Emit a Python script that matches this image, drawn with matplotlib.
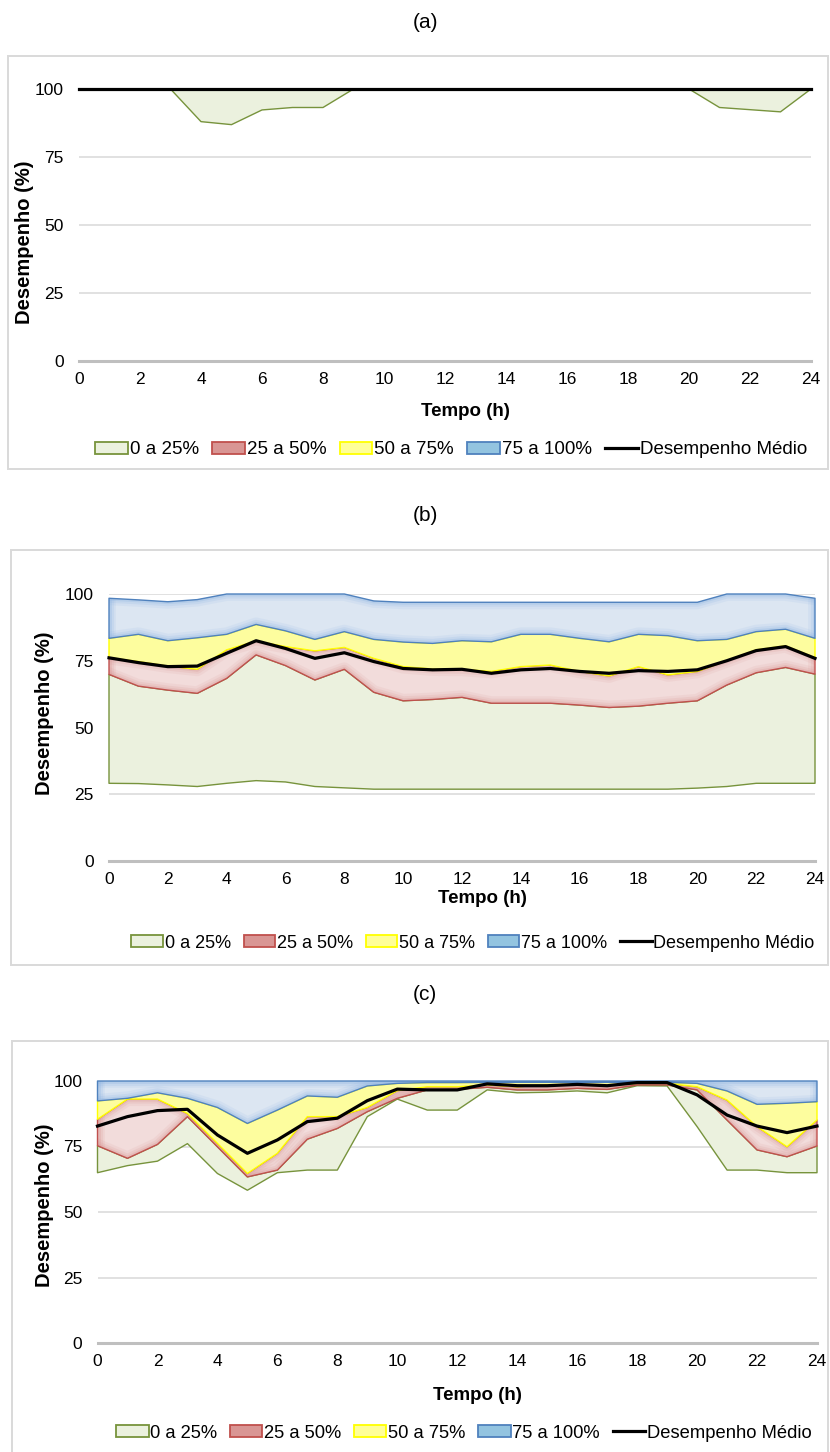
import matplotlib
matplotlib.use('Agg')
import matplotlib.pyplot as plt
from matplotlib.patches import Polygon, Patch, Rectangle
from matplotlib.lines import Line2D

plt.rcParams['font.family'] = ['Liberation Sans', 'DejaVu Sans']

# ---------------- data ----------------
hours = [0, 1, 2, 3, 4, 5, 6, 7, 8, 9, 10, 11, 12, 13, 14, 15, 16, 17, 18, 19, 20, 21, 22, 23, 24]
x_ticks = [0, 2, 4, 6, 8, 10, 12, 14, 16, 18, 20, 22, 24]
y_ticks = [0, 25, 50, 75, 100]
band_labels = ['0 a 25%', '25 a 50%', '50 a 75%', '75 a 100%']
mean_label = 'Desempenho Médio'
panel_titles = ['(a)', '(b)', '(c)']
x_title = 'Tempo (h)'
y_title = 'Desempenho (%)'

# panel (a)
a_min = [100, 100, 100, 100, 88.0, 86.9, 92.3, 93.2, 93.2, 100, 100, 100, 100, 100, 100, 100, 100, 100, 100, 100, 100, 93.2, 92.4, 91.6, 100]
a_q1 = [100, 100, 100, 100, 100, 100, 100, 100, 100, 100, 100, 100, 100, 100, 100, 100, 100, 100, 100, 100, 100, 100, 100, 100, 100]
a_med = [100, 100, 100, 100, 100, 100, 100, 100, 100, 100, 100, 100, 100, 100, 100, 100, 100, 100, 100, 100, 100, 100, 100, 100, 100]
a_q3 = [100, 100, 100, 100, 100, 100, 100, 100, 100, 100, 100, 100, 100, 100, 100, 100, 100, 100, 100, 100, 100, 100, 100, 100, 100]
a_max = [100, 100, 100, 100, 100, 100, 100, 100, 100, 100, 100, 100, 100, 100, 100, 100, 100, 100, 100, 100, 100, 100, 100, 100, 100]
a_mean = [100, 100, 100, 100, 100, 100, 100, 100, 100, 100, 100, 100, 100, 100, 100, 100, 100, 100, 100, 100, 100, 100, 100, 100, 100]

# panel (b)
b_min = [29.1, 29.0, 28.5, 27.9, 29.1, 30.1, 29.6, 27.9, 27.4, 26.9, 26.9, 26.9, 26.9, 26.9, 26.9, 26.9, 26.9, 26.9, 26.9, 26.9, 27.3, 27.9, 29.1, 29.1, 29.1]
b_q1 = [69.9, 65.5, 64.0, 62.8, 68.4, 77.2, 73.2, 67.8, 71.8, 63.2, 60.0, 60.5, 61.3, 59.1, 59.1, 59.1, 58.4, 57.5, 58.0, 59.1, 60.0, 65.9, 70.5, 72.5, 70.0]
b_med = [76.2, 74.7, 73.0, 71.8, 79.1, 82.4, 80.3, 78.7, 80.0, 75.9, 72.8, 71.9, 71.8, 71.0, 72.8, 73.4, 71.0, 69.3, 72.8, 69.7, 71.0, 75.0, 79.1, 80.6, 76.2]
b_q3 = [83.4, 84.9, 82.5, 83.6, 84.9, 88.6, 86.2, 83.0, 85.9, 83.0, 82.0, 81.5, 82.5, 82.1, 84.9, 84.9, 83.4, 82.1, 84.9, 84.4, 82.5, 83.0, 85.9, 86.8, 83.4]
b_max = [98.4, 97.8, 97.1, 97.9, 100, 100, 100, 100, 100, 97.4, 96.9, 96.9, 96.9, 96.9, 96.9, 96.9, 96.9, 96.9, 96.9, 96.9, 96.9, 100, 100, 100, 98.4]
b_mean = [76.1, 74.3, 72.8, 73.0, 77.8, 82.5, 79.6, 75.9, 78.0, 74.7, 72.1, 71.6, 71.8, 70.3, 71.6, 72.1, 71.0, 70.3, 71.3, 71.0, 71.6, 75.0, 78.8, 80.3, 75.9]

# panel (c)
c_min = [65.0, 67.7, 69.4, 76.1, 64.7, 58.3, 65.0, 66.0, 66.0, 86.4, 93.1, 88.9, 88.9, 96.6, 95.5, 95.7, 96.2, 95.5, 98.2, 98.1, 82.6, 66.0, 66.0, 65.0, 65.0]
c_q1 = [75.3, 70.5, 75.8, 86.4, 74.9, 63.4, 66.0, 77.8, 81.9, 88.3, 93.4, 96.6, 96.8, 97.6, 96.6, 96.6, 97.2, 96.8, 98.5, 98.5, 96.6, 85.1, 73.7, 71.1, 75.2]
c_med = [85.4, 93.1, 93.1, 87.6, 76.2, 64.7, 72.4, 86.4, 86.4, 89.9, 96.3, 97.8, 97.8, 98.5, 97.8, 98.5, 98.5, 98.2, 99.1, 99.1, 97.8, 92.7, 82.6, 74.9, 85.1]
c_q3 = [92.4, 93.4, 95.5, 93.4, 89.9, 83.8, 88.9, 94.3, 93.8, 98.1, 99.1, 99.4, 99.4, 99.5, 99.5, 99.5, 99.5, 99.5, 99.5, 99.5, 99.1, 96.2, 91.1, 91.5, 92.1]
c_max = [100, 100, 100, 100, 100, 100, 100, 100, 100, 100, 100, 100, 100, 100, 100, 100, 100, 100, 100, 100, 100, 100, 100, 100, 100]
c_mean = [82.8, 86.4, 88.7, 89.2, 79.4, 72.4, 77.5, 84.5, 85.8, 92.5, 96.9, 96.6, 96.6, 98.9, 98.2, 98.2, 98.7, 98.2, 99.4, 99.4, 94.7, 87.0, 82.8, 80.3, 82.8]

# ---------------- style ----------------
W, H = 830, 1452
fills = ['#EBF1DE', '#F2DCDB', '#FDFD9E', '#DCE6F2']
edges = ['#77933C', '#C0504D', '#FFFF00', '#4F81BD']
glows = [None, '#D99694', None, '#8DB4E2']
legend_fills = ['#EBF1DE', '#D99694', '#FFFF99', '#93C4E0']
grid_col = '#D9D9D9'

fig = plt.figure(figsize=(W / 100, H / 100), dpi=100)

# pixel layouts per panel
layouts = [
    dict(title_y=22, frame=(8, 56, 828, 469), axes=(79, 811, 89, 361), ylab=(25, 242), xlab_y=411,
         leg=(451, 450), leg_fs=13.5),
    dict(title_y=516, frame=(11, 550, 828, 965), axes=(109, 815, 594, 861), ylab=(45, 713), xlab_y=899,
         leg=(473, 943), leg_fs=13.0),
    dict(title_y=994, frame=(12, 1041, 828, 1470), axes=(97.5, 817, 1081, 1343), ylab=(45, 1205), xlab_y=1396,
         leg=(464, 1433), leg_fs=13.2),
]
datasets = [
    (a_min, a_q1, a_med, a_q3, a_max, a_mean),
    (b_min, b_q1, b_med, b_q3, b_max, b_mean),
    (c_min, c_q1, c_med, c_q3, c_max, c_mean),
]


def fx(px):
    return px / W


def fy(py):
    return 1 - py / H


for title, lay, data in zip(panel_titles, layouts, datasets):
    fx0, fy0, fx1, fy1 = lay['frame']
    fig.add_artist(Rectangle((fx(fx0), fy(fy1)), fx(fx1) - fx(fx0), fy(fy0) - fy(fy1),
                             transform=fig.transFigure, fill=False, edgecolor=grid_col, lw=1.4))
    fig.text(fx(425), fy(lay['title_y']), title, ha='center', va='center', fontsize=15)

    x0, x1, yt, yb = lay['axes']
    ax = fig.add_axes([fx(x0), fy(yb), fx(x1) - fx(x0), fy(yt) - fy(yb)])
    ax.set_xlim(0, 24)
    ax.set_ylim(0, 100)
    for s in ax.spines.values():
        s.set_visible(False)
    for yv in y_ticks[1:]:
        ax.axhline(yv, color=grid_col, lw=1.1, zorder=0)
    ax.axhline(0, color='#BFBFBF', lw=2.2, zorder=0, clip_on=False)
    ax.set_xticks(x_ticks)
    ax.set_yticks(y_ticks)
    ax.tick_params(axis='x', length=0, labelsize=12.5, pad=8)
    ax.tick_params(axis='y', length=0, labelsize=12.5, pad=11)

    levels = data[:5]
    mean = data[5]
    for i in range(4):
        lower = levels[i]
        upper = levels[i + 1]
        verts = [(h, u) for h, u in zip(hours, upper)] + [(h, l) for h, l in zip(hours[::-1], lower[::-1])]
        poly = Polygon(verts, closed=True, facecolor=fills[i], edgecolor='none',
                       zorder=2 + i * 0.1, clip_on=False)
        ax.add_patch(poly)
        if glows[i] is not None:
            for lw, al in [(10, 0.12), (6.5, 0.18), (3.5, 0.28)]:
                for series in (lower, upper):
                    ln, = ax.plot(hours, series, color=glows[i], lw=lw, alpha=al,
                                  zorder=2 + i * 0.1 + 0.01, solid_joinstyle='round')
                    ln.set_clip_path(poly)
                for xe in (0, 24):
                    ln, = ax.plot([xe, xe], [lower[hours.index(xe)], upper[hours.index(xe)]],
                                  color=glows[i], lw=lw, alpha=al, zorder=2 + i * 0.1 + 0.01)
                    ln.set_clip_path(poly)
        outline = Polygon(verts, closed=True, facecolor='none', edgecolor=edges[i], lw=1.0,
                          zorder=2 + i * 0.1 + 0.05, clip_on=False, joinstyle='round')
        ax.add_patch(outline)

    ax.plot(hours, mean, color='black', lw=2.3, zorder=5, clip_on=False, solid_joinstyle='round')

    fig.text(fx((x0 + x1) / 2 + 20), fy(lay['xlab_y']), x_title, ha='center', va='center',
             fontsize=13.5, fontweight='bold')
    fig.text(fx(lay['ylab'][0]), fy(lay['ylab'][1]), y_title, ha='center', va='center',
             rotation=90, fontsize=14.5, fontweight='bold')

    handles = [Patch(facecolor=legend_fills[i], edgecolor=edges[i], lw=1.3) for i in range(4)]
    handles.append(Line2D([0], [0], color='black', lw=2.3))
    fig.legend(handles, band_labels + [mean_label], loc='center',
               bbox_to_anchor=(fx(lay['leg'][0]), fy(lay['leg'][1])), ncol=5, frameon=False,
               fontsize=lay['leg_fs'], handlelength=1.75, handleheight=0.6, handletextpad=0.1,
               columnspacing=0.7, borderaxespad=0, borderpad=0)

fig.savefig('out.png', dpi=100)
